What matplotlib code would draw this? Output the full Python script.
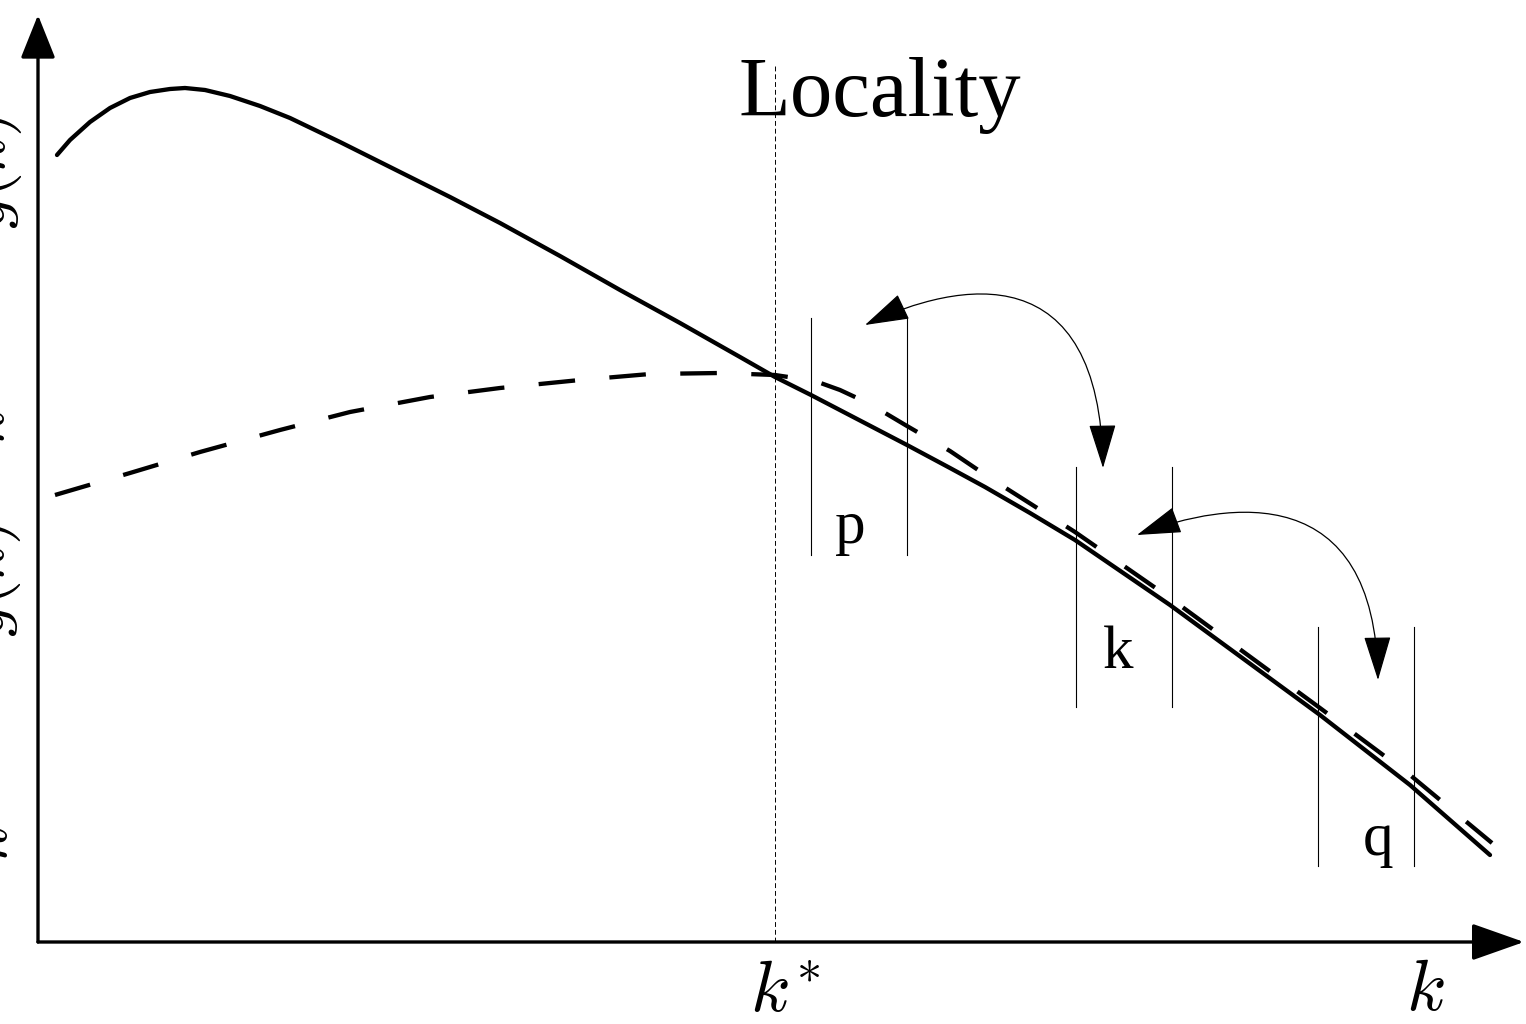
import matplotlib.pyplot as plt
from matplotlib.patches import FancyArrowPatch
from matplotlib.path import Path

plt.rcParams['mathtext.fontset'] = 'cm'

# data coords: origin at axes corner, units ~ pixels of the reference
solid_x = [19, 32, 52, 72, 92, 112, 132, 147, 167, 192, 222, 252, 302, 362, 412,
           462, 522, 582, 642, 702, 737, 773, 869, 912, 947, 992, 1037,
           1132, 1282, 1372, 1452]
solid_y = [787, 802, 820, 834, 844, 850, 853, 854, 852, 846, 836, 824, 800, 770, 745,
           719, 686, 652, 619, 585, 565, 547, 497, 474, 455, 429, 402,
           337, 227, 157, 87]

dash_x = [17, 92, 162, 242, 312, 392, 462, 542, 612, 682, 737, 777, 802, 832, 869,
          912, 952, 1037, 1132, 1282, 1372, 1454]
dash_y = [447, 469, 490, 512, 530, 545, 554, 562, 568, 569, 567, 561, 552, 538, 516,
          491, 464, 410, 344, 234, 167, 99]

k_star = 737
window_x = [(773, 869), (1038, 1134), (1280, 1376)]
window_y = [(387, 624), (235, 475), (76, 315)]
window_labels = ['p', 'k', 'q']
label_pos = [(812, 399), (1080, 274), (1340, 87)]

# cubic bezier control points for the two swap arrows
swap_arrows = [
    [(827, 617), (922, 662), (1062, 687), (1065, 474)],
    [(1099, 407), (1192, 442), (1337, 462), (1340, 262)],
]

fig = plt.figure(figsize=(15.26, 10.24), dpi=100)
ax = fig.add_axes([0, 0, 1, 1])
ax.set_xlim(-38, 1488)
ax.set_ylim(-82, 942)
ax.axis('off')

# axes with arrow heads
ax.add_patch(FancyArrowPatch((0, 0), (0, 927), arrowstyle='-|>,head_length=0.6,head_width=0.24',
                             mutation_scale=45, lw=2.4, color='black', shrinkA=0, shrinkB=0))
ax.add_patch(FancyArrowPatch((0, 0), (1486, 0), arrowstyle='-|>,head_length=0.68,head_width=0.24',
                             mutation_scale=48, lw=2.4, color='black', shrinkA=0, shrinkB=0))

ax.plot(solid_x, solid_y, color='black', lw=3.1, solid_capstyle='round')
ax.plot(dash_x, dash_y, color='black', lw=3.1, linestyle=(0, (8.5, 8.0)))

ax.plot([k_star, k_star], [0, 877], color='black', lw=0.7, linestyle=(0, (5, 3)))

for (x0, x1), (y0, y1), lab, (lx, ly) in zip(window_x, window_y, window_labels, label_pos):
    ax.plot([x0, x0], [y0, y1], color='black', lw=0.8)
    ax.plot([x1, x1], [y0, y1], color='black', lw=0.8)
    ax.text(lx, ly, lab, fontsize=44, family='Liberation Serif', ha='center', va='baseline')

for pts in swap_arrows:
    path = Path(pts, [Path.MOVETO, Path.CURVE4, Path.CURVE4, Path.CURVE4])
    ax.add_patch(FancyArrowPatch(path=path, arrowstyle='<|-|>,head_length=0.75,head_width=0.23',
                                 mutation_scale=38, lw=0.9, color='black'))

ax.text(842, 846, 'Locality', fontsize=61, family='Liberation Serif', ha='center', va='center')

ax.text(747, -70, r'$k^{*}$', fontsize=52, ha='center', va='baseline')
ax.text(1387, -68, r'$k$', fontsize=52, ha='center', va='baseline')

# y-axis labels, mostly cut off at the left edge
ax.text(-50, 770, r'$g(k)$', fontsize=48, rotation=90, ha='center', va='center')
ax.text(-50, 420, r'$g(k) - k$', fontsize=48, rotation=90, ha='center', va='center')
ax.text(-50, 99, r'$k$', fontsize=48, rotation=90, ha='center', va='center')

fig.savefig('out.png', dpi=100)
